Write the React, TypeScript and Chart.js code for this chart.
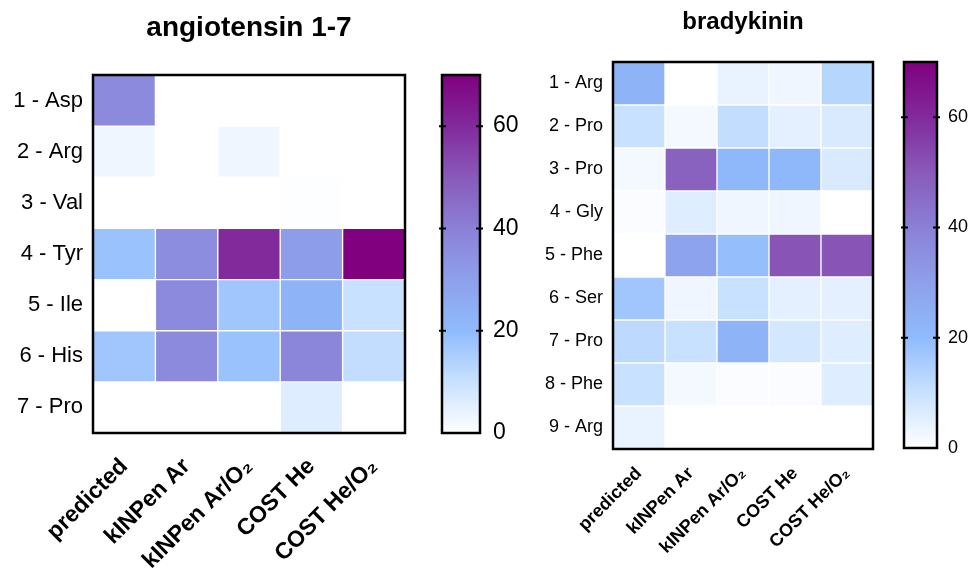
import React, { useEffect, useRef } from "react";
import { Chart, registerables } from "chart.js";
Chart.register(...registerables);

const FONT = "'Liberation Sans', Arial, 'DejaVu Sans', sans-serif";

const methods = ["predicted", "kINPen Ar", "kINPen Ar/O₂", "COST He", "COST He/O₂"];

const angRows = ["1 - Asp", "2 - Arg", "3 - Val", "4 - Tyr", "5 - Ile", "6 - His", "7 - Pro"];
const angPredicted = [37, 3, 0, 18, 0, 17, 0];
const angKinpenAr = [0, 0, 0, 36, 37, 37, 0];
const angKinpenArO2 = [0, 3, 0, 60, 17, 18, 0];
const angCostHe = [0, 0, 0.4, 31, 23, 38, 6];
const angCostHeO2 = [0, 0, 0, 70, 10, 11, 0];

const bradRows = ["1 - Arg", "2 - Pro", "3 - Pro", "4 - Gly", "5 - Phe", "6 - Ser", "7 - Pro", "8 - Phe", "9 - Arg"];
const bradPredicted = [23, 10, 2, 1, 0, 17, 12, 10, 4];
const bradKinpenAr = [0, 2, 48, 6, 29, 3, 10, 2, 0];
const bradKinpenArO2 = [4, 11, 21, 3, 19, 10, 23, 1, 0];
const bradCostHe = [3, 5, 21, 3, 51, 5, 8, 1, 0];
const bradCostHeO2 = [13, 7, 7, 0, 51, 5, 6, 6, 0];

const colorTicks = [0, 20, 40, 60];
const colorMax = 70;

const colorStops: [number, number[]][] = [
  [0, [255, 255, 255]],
  [10, [200, 225, 255]],
  [20, [143, 187, 252]],
  [30, [142, 160, 235]],
  [40, [139, 128, 214]],
  [50, [137, 90, 186]],
  [60, [130, 42, 156]],
  [70, [128, 0, 128]],
];

function colorFor(v: number): string {
  if (v <= colorStops[0][0]) return `rgb(${colorStops[0][1].join(",")})`;
  for (let i = 1; i < colorStops.length; i++) {
    const [v1, c1] = colorStops[i];
    const [v0, c0] = colorStops[i - 1];
    if (v <= v1) {
      const t = (v - v0) / (v1 - v0);
      const c = c0.map((x, k) => Math.round(x + (c1[k] - x) * t));
      return `rgb(${c.join(",")})`;
    }
  }
  return `rgb(${colorStops[colorStops.length - 1][1].join(",")})`;
}

const framePlugin = {
  id: "frame",
  afterDatasetsDraw(chart: any, _args: any, opts: any) {
    const { ctx, chartArea: a } = chart;
    ctx.save();
    ctx.strokeStyle = "#000";
    ctx.lineWidth = opts.width || 2;
    ctx.strokeRect(a.left, a.top, a.right - a.left, a.bottom - a.top);
    if (opts.ticks) {
      const s = chart.scales.y;
      ctx.lineWidth = 2;
      for (const v of opts.ticks) {
        if (v <= s.min || v >= s.max) continue;
        const y = s.getPixelForValue(v);
        ctx.beginPath();
        ctx.moveTo(a.left - 3, y);
        ctx.lineTo(a.left + 4, y);
        ctx.moveTo(a.right - 4, y);
        ctx.lineTo(a.right + 3, y);
        ctx.stroke();
      }
    }
    ctx.restore();
  },
};

type HeatProps = {
  title: string;
  titleSize: number;
  titlePadTop: number;
  titlePadBottom: number;
  rows: string[];
  columns: number[][];
  left: number;
  width: number;
  yAxisWidth: number;
  rightPad: number;
  areaBottom: number;
  yFont: number;
  xFont: number;
  xPad: number;
};

function Heatmap(p: HeatProps) {
  const ref = useRef<HTMLCanvasElement>(null);
  useEffect(() => {
    const H = 571;
    const chart = new Chart(ref.current!, {
      type: "bar",
      data: {
        labels: methods,
        datasets: p.rows.map((r, i) => ({
          label: r,
          data: methods.map(() => [i, i + 1]) as any,
          backgroundColor: p.columns.map((col) => colorFor(col[i])),
          borderColor: "#ffffff",
          borderWidth: 1,
          borderSkipped: false,
          grouped: false,
          barPercentage: 1,
          categoryPercentage: 1,
        })),
      },
      options: {
        responsive: false,
        maintainAspectRatio: false,
        animation: false,
        layout: { padding: { left: 0, right: p.rightPad, top: 0, bottom: 0 }, autoPadding: false },
        plugins: {
          legend: { display: false },
          tooltip: { enabled: false },
          title: {
            display: true,
            fullSize: false,
            text: p.title,
            color: "#000",
            font: { family: FONT, size: p.titleSize, weight: "bold", lineHeight: 1.2 },
            padding: { top: p.titlePadTop, bottom: p.titlePadBottom },
          },
          frame: { width: 2.5 },
        } as any,
        scales: {
          x: {
            type: "category",
            offset: true,
            grid: { display: false, drawTicks: false },
            border: { display: false },
            ticks: {
              autoSkip: false,
              maxRotation: 45,
              minRotation: 45,
              padding: p.xPad,
              color: "#000",
              font: { family: FONT, size: p.xFont, weight: "bold" },
            },
            afterFit: (s: any) => {
              s.height = H - p.areaBottom;
            },
          },
          y: {
            type: "linear",
            min: 0,
            max: p.rows.length,
            reverse: true,
            grid: { display: false, drawTicks: false },
            border: { display: false },
            afterBuildTicks: (s: any) => {
              s.ticks = p.rows.map((_, i) => ({ value: i + 0.5 }));
            },
            ticks: {
              autoSkip: false,
              padding: 10,
              color: "#000",
              font: { family: FONT, size: p.yFont },
              callback: (v: any) => p.rows[Math.floor(Number(v))] ?? "",
            },
            afterFit: (s: any) => {
              s.width = p.yAxisWidth;
            },
          },
        },
      },
      plugins: [framePlugin],
    });
    return () => chart.destroy();
  }, []);
  return (
    <div style={{ position: "absolute", left: p.left, top: 0, width: p.width, height: 571 }}>
      <canvas ref={ref} width={p.width} height={571} />
    </div>
  );
}

type BarProps = {
  left: number;
  width: number;
  padLeft: number;
  axisWidth: number;
  top: number;
  bottom: number;
  font: number;
  labelPad: number;
};

function ColorBar(p: BarProps) {
  const ref = useRef<HTMLCanvasElement>(null);
  useEffect(() => {
    const chart = new Chart(ref.current!, {
      type: "bar",
      data: {
        labels: [""],
        datasets: [
          {
            data: [[0, colorMax]] as any,
            backgroundColor: (c: any) => {
              const a = c.chart.chartArea;
              if (!a) return "#fff";
              const g = c.chart.ctx.createLinearGradient(0, a.bottom, 0, a.top);
              colorStops.forEach(([v, col]) => g.addColorStop(v / colorMax, `rgb(${col.join(",")})`));
              return g;
            },
            borderWidth: 0,
            barPercentage: 1,
            categoryPercentage: 1,
          },
        ],
      },
      options: {
        responsive: false,
        maintainAspectRatio: false,
        animation: false,
        layout: { padding: { left: p.padLeft, right: 0, top: p.top, bottom: p.bottom }, autoPadding: false },
        plugins: {
          legend: { display: false },
          tooltip: { enabled: false },
          frame: { width: 2.5, ticks: colorTicks },
        } as any,
        scales: {
          x: { display: false },
          y: {
            position: "right",
            min: 0,
            max: colorMax,
            grid: { display: false, drawTicks: false },
            border: { display: false },
            afterBuildTicks: (s: any) => {
              s.ticks = colorTicks.map((v) => ({ value: v }));
            },
            ticks: {
              padding: p.labelPad,
              color: "#000",
              font: { family: FONT, size: p.font },
            },
            afterFit: (s: any) => {
              s.width = p.axisWidth;
            },
          },
        },
      },
      plugins: [framePlugin],
    });
    return () => chart.destroy();
  }, []);
  return (
    <div style={{ position: "absolute", left: p.left, top: 0, width: p.width, height: 571 }}>
      <canvas ref={ref} width={p.width} height={571} />
    </div>
  );
}

export default function App() {
  return (
    <div style={{ position: "absolute", left: 0, top: 0, width: 969, height: 571, background: "#fff", overflow: "hidden" }}>
      <Heatmap
        title="angiotensin 1-7"
        titleSize={28}
        titlePadTop={11}
        titlePadBottom={30.4}
        rows={angRows}
        columns={[angPredicted, angKinpenAr, angKinpenArO2, angCostHe, angCostHeO2]}
        left={0}
        width={420}
        yAxisWidth={93}
        rightPad={15}
        areaBottom={433}
        yFont={22}
        xFont={23}
        xPad={20}
      />
      <ColorBar left={430} width={100} padLeft={12} axisWidth={50} top={75} bottom={138} font={23} labelPad={13} />
      <Heatmap
        title="bradykinin"
        titleSize={24}
        titlePadTop={7.6}
        titlePadBottom={25.6}
        rows={bradRows}
        columns={[bradPredicted, bradKinpenAr, bradKinpenArO2, bradCostHe, bradCostHeO2]}
        left={520}
        width={370}
        yAxisWidth={93}
        rightPad={17}
        areaBottom={449}
        yFont={18}
        xFont={18}
        xPad={14}
      />
      <ColorBar left={890} width={79} padLeft={14} axisWidth={32} top={62} bottom={123} font={18} labelPad={11} />
    </div>
  );
}
